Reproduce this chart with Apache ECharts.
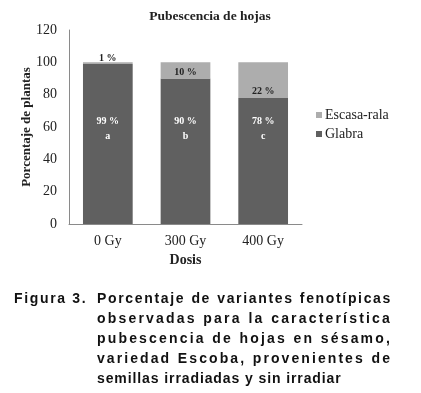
<!DOCTYPE html>
<html><head><meta charset="utf-8">
<script src="https://cdn.jsdelivr.net/npm/echarts@6/dist/echarts.min.js"></script>
<style>
html,body{margin:0;padding:0;background:#fff;}
#wrap{position:relative;width:421px;height:393px;}
#chart{position:absolute;left:0;top:0;width:421px;height:393px;}
#cap{position:absolute;left:14px;top:288px;width:378px;font-family:"Liberation Sans",Arial,sans-serif;font-weight:bold;font-size:14px;line-height:20px;color:#111;}
#cap .lab{position:absolute;left:0;top:0;white-space:nowrap;}
#cap .body{position:absolute;left:83px;top:0;width:295px;}
#cap .body div{white-space:nowrap;text-align:justify;text-align-last:justify;}
#cap .body div.last{text-align-last:left;}
</style></head>
<body><div id="wrap"><div id="chart"></div>
<div id="cap"><span class="lab" id="lab">Figura 3.</span><div class="body" id="body">
<div>Porcentaje de variantes fenotípicas</div>
<div>observadas para la característica</div>
<div>pubescencia de hojas en sésamo,</div>
<div>variedad Escoba, provenientes de</div>
<div class="last">semillas irradiadas y sin irradiar</div>
</div></div></div>
<script>
var categories = ['0 Gy', '300 Gy', '400 Gy'];
var glabra = [99, 90, 78];
var escasa = [1, 10, 22];
var letters = ['a', 'b', 'c'];
var yTicks = [0, 20, 40, 60, 80, 100, 120];

// caption: distribute extra width across characters (like the original's justification)
(function () {
  var cv = document.createElement('canvas').getContext('2d');
  cv.font = 'bold 14px "Liberation Sans", Arial, sans-serif';
  var lines = document.querySelectorAll('#body div');
  var target = 295;
  var firstSpacing = 0.9;
  lines.forEach(function (d, i) {
    if (d.className === 'last') { d.style.letterSpacing = '0.9px'; return; }
    var t = d.textContent;
    var w = cv.measureText(t).width;
    var ls = (target - 2 - w) / t.length;
    if (ls < 0.9) ls = 0.9;
    d.style.letterSpacing = ls.toFixed(2) + 'px';
    if (i === 0) firstSpacing = ls;
  });
  document.getElementById('lab').style.letterSpacing = firstSpacing.toFixed(2) + 'px';
})();

var serif = '"Liberation Serif","DejaVu Serif",serif';
var chart = echarts.init(document.getElementById('chart'));
chart.setOption({
  animation: false,
  title: {
    text: 'Pubescencia de hojas', left: 205, top: 5, textAlign: 'center',
    textStyle: {fontFamily: serif, fontSize: 13.5, fontWeight: 'bold', color: '#222'}
  },
  legend: {
    orient: 'vertical', left: 311, top: 103, itemWidth: 6, itemHeight: 6, itemGap: 5,
    icon: 'rect', data: ['Escasa-rala', 'Glabra'],
    textStyle: {fontFamily: serif, fontSize: 14, color: '#222', padding: [0, 0, 0, -2]}
  },
  grid: {left: 69, right: 119, top: 30, bottom: 169},
  xAxis: {
    type: 'category', data: categories,
    name: 'Dosis', nameLocation: 'middle', nameGap: 29, nameMoveOverlap: false,
    nameTextStyle: {fontFamily: serif, fontSize: 14, fontWeight: 'bold', color: '#222'},
    axisLine: {lineStyle: {color: '#8a8a8a', width: 1}},
    axisTick: {show: false},
    axisLabel: {fontFamily: serif, fontSize: 14, color: '#222', margin: 10}
  },
  yAxis: {
    type: 'value', min: yTicks[0], max: yTicks[yTicks.length - 1], interval: 20,
    name: 'Porcentaje de plantas', nameLocation: 'middle', nameGap: 36, nameMoveOverlap: false,
    nameTextStyle: {fontFamily: serif, fontSize: 13, fontWeight: 'bold', color: '#222'},
    axisLine: {show: true, lineStyle: {color: '#8a8a8a', width: 1}},
    axisTick: {show: false},
    splitLine: {show: false},
    axisLabel: {fontFamily: serif, fontSize: 14, color: '#222', margin: 12}
  },
  series: [
    {
      name: 'Glabra', type: 'bar', stack: 's', data: glabra, barWidth: '64%',
      itemStyle: {color: '#606060'},
      label: {
        show: true, position: 'insideBottom', distance: 80,
        fontFamily: serif, fontSize: 10, fontWeight: 'bold', color: '#fff', lineHeight: 15,
        formatter: function (p) { return p.value + ' %\n' + letters[p.dataIndex]; }
      }
    },
    {
      name: 'Escasa-rala', type: 'bar', stack: 's', data: escasa, barWidth: '64%',
      itemStyle: {color: '#adadad'},
      label: {
        show: true, position: 'insideBottom', distance: 1,
        fontFamily: serif, fontSize: 10, fontWeight: 'bold', color: '#222',
        formatter: function (p) { return p.value + ' %'; }
      }
    }
  ]
});
</script></body></html>
